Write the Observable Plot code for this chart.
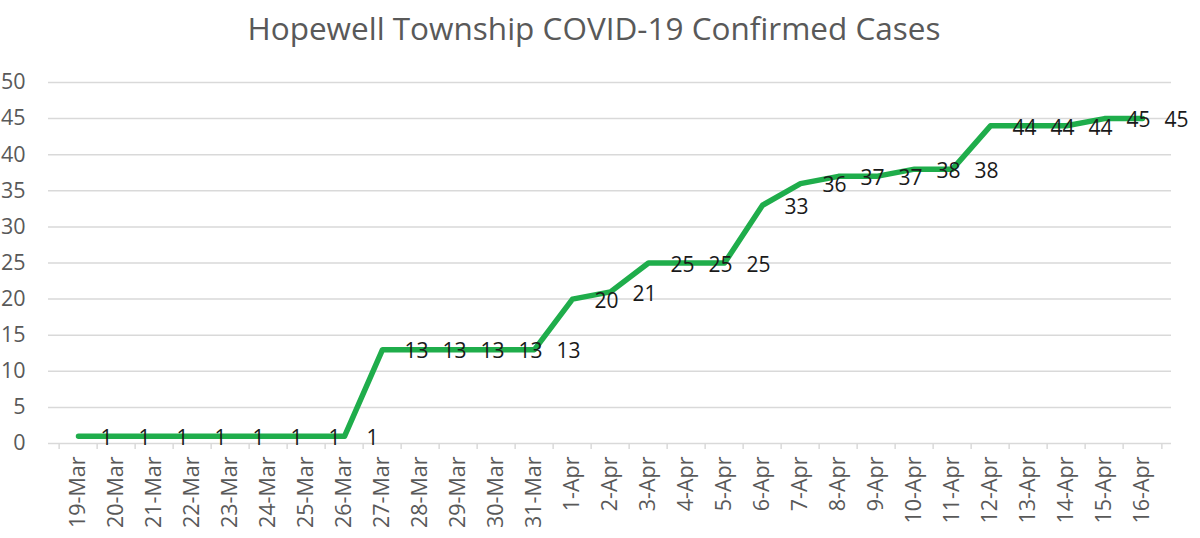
<!DOCTYPE html>
<html><head><meta charset="utf-8">
<script src="https://cdn.jsdelivr.net/npm/d3@7"></script>
<script src="https://cdn.jsdelivr.net/npm/@observablehq/plot@0.6"></script>
<style>
body{margin:0;background:#fff;font-family:"Open Sans",sans-serif;}
#wrap{width:1200px;height:538px;position:relative;overflow:hidden;background:#fff;}
#title{height:60px;line-height:56px;text-align:center;font-size:31.5px;color:#595959;padding-right:12px;white-space:nowrap;}
</style></head><body>
<div id="wrap"><div id="title">Hopewell Township COVID-19 Confirmed Cases</div><div id="chart"></div></div>
<script>
const dates = ["19-Mar","20-Mar","21-Mar","22-Mar","23-Mar","24-Mar","25-Mar","26-Mar","27-Mar","28-Mar","29-Mar","30-Mar","31-Mar","1-Apr","2-Apr","3-Apr","4-Apr","5-Apr","6-Apr","7-Apr","8-Apr","9-Apr","10-Apr","11-Apr","12-Apr","13-Apr","14-Apr","15-Apr","16-Apr"];
const cases = [1,1,1,1,1,1,1,1,13,13,13,13,13,20,21,25,25,25,33,36,37,37,38,38,44,44,44,45,45];
const yTicks = [0,5,10,15,20,25,30,35,40,45,50];

const data = dates.map((d, i) => ({date: d, cases: cases[i]}));
const W = 1200, H = 478, ml = 48, mr = 29, mt = 22, mb = 95;
const step = (W - ml - mr) / dates.length;
const font = '"Open Sans", sans-serif';

const chart = Plot.plot({
  width: W, height: H,
  marginLeft: ml, marginRight: mr, marginTop: mt, marginBottom: mb,
  style: {fontFamily: font, fontSize: "21px", color: "#595959", background: "#fff", overflow: "visible"},
  x: {type: "point", domain: dates, padding: 0.5, label: null},
  y: {domain: [0, 50], label: null},
  marks: [
    Plot.ruleY(yTicks, {stroke: "#d9d9d9", strokeWidth: 1.5}),
    Plot.axisY(yTicks, {tickSize: 0, tickPadding: 23, label: null, fill: "#595959", fontSize: 21.5}),
    Plot.axisX(dates, {tickSize: 0, tickPadding: 13, tickRotate: -90, label: null, fill: "#595959", fontSize: 21.5}),
    Plot.axisX(dates, {tickSize: 6, tickFormat: () => "", dx: -step / 2, stroke: "#d9d9d9", strokeWidth: 1.5, label: null}),
    Plot.axisX([dates[dates.length - 1]], {tickSize: 6, tickFormat: () => "", dx: step / 2, stroke: "#d9d9d9", strokeWidth: 1.5, label: null}),
    Plot.line(data, {x: "date", y: "cases", stroke: "#1fad4b", strokeWidth: 5.5, strokeLinecap: "round", strokeLinejoin: "round"}),
    Plot.text(data, {x: "date", y: "cases", text: d => String(d.cases), textAnchor: "start", dx: 22, dy: 2, fill: "#1a1a1a", fontSize: 21})
  ]
});
document.getElementById("chart").appendChild(chart);
</script>
</body></html>
